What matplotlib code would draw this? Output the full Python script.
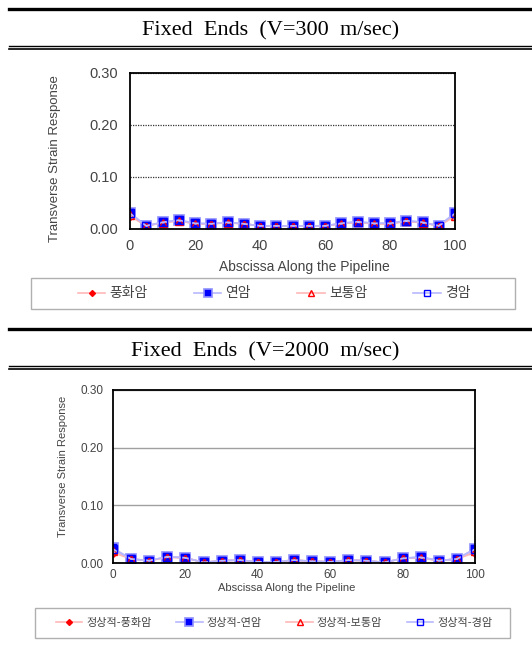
import matplotlib
matplotlib.use("Agg")
import numpy as np
import matplotlib.pyplot as plt
from matplotlib.lines import Line2D
from matplotlib.patches import Rectangle

# positions along the pipeline
x = [0, 5, 10, 15, 20, 25, 30, 35, 40, 45, 50, 55, 60, 65, 70, 75, 80, 85, 90, 95, 100]

# V = 300 m/sec
v300_weathered = [0.025, 0.006, 0.012, 0.016, 0.010, 0.010, 0.012, 0.010, 0.006, 0.006, 0.006,
                  0.006, 0.006, 0.010, 0.013, 0.010, 0.010, 0.015, 0.012, 0.006, 0.025]
v300_soft = [0.031, 0.006, 0.013, 0.017, 0.011, 0.010, 0.013, 0.010, 0.006, 0.006, 0.006,
             0.006, 0.006, 0.011, 0.014, 0.011, 0.011, 0.016, 0.013, 0.006, 0.031]
v300_normal = [0.026, 0.006, 0.012, 0.016, 0.010, 0.010, 0.012, 0.010, 0.006, 0.006, 0.006,
               0.006, 0.006, 0.010, 0.013, 0.010, 0.010, 0.015, 0.012, 0.006, 0.025]
v300_hard = [0.030, 0.006, 0.013, 0.017, 0.011, 0.010, 0.013, 0.010, 0.006, 0.006, 0.006,
             0.006, 0.006, 0.011, 0.014, 0.011, 0.011, 0.016, 0.013, 0.006, 0.030]

# V = 2000 m/sec
v2000_weathered = [0.018, 0.007, 0.004, 0.010, 0.009, 0.001, 0.004, 0.005, 0.002, 0.002, 0.005,
                   0.003, 0.002, 0.005, 0.004, 0.001, 0.008, 0.009, 0.004, 0.007, 0.018]
v2000_soft = [0.026, 0.007, 0.004, 0.011, 0.009, 0.001, 0.004, 0.005, 0.002, 0.002, 0.005,
              0.003, 0.002, 0.005, 0.004, 0.001, 0.008, 0.011, 0.004, 0.007, 0.025]
v2000_normal = [0.020, 0.007, 0.004, 0.010, 0.009, 0.001, 0.004, 0.005, 0.002, 0.002, 0.005,
                0.003, 0.002, 0.005, 0.004, 0.001, 0.008, 0.009, 0.004, 0.007, 0.020]
v2000_hard = [0.024, 0.007, 0.004, 0.011, 0.009, 0.001, 0.004, 0.005, 0.002, 0.002, 0.005,
              0.003, 0.002, 0.005, 0.004, 0.001, 0.008, 0.010, 0.004, 0.007, 0.024]

labels_300 = ["풍화암", "연암", "보통암", "경암"]
labels_2000 = ["정상적-풍화암", "정상적-연암", "정상적-보통암", "정상적-경암"]

yticks = [0.0, 0.1, 0.2, 0.3]
xticks = [0, 20, 40, 60, 80, 100]

LATIN = ["Liberation Sans", "DejaVu Sans"]
KOR = ["Noto Sans CJK KR", "DejaVu Sans"]
GREY = "#444444"

styles = [
    dict(color="#ffb8b8", marker="D", ms=4, mfc="red", mec="red", mew=1),
    dict(color="#b8b8ff", marker="s", ms=7, mfc="blue", mec="#9090ff", mew=1.2),
    dict(color="#ffb8b8", marker="^", ms=5.5, mfc="none", mec="red", mew=1),
    dict(color="#b8b8ff", marker="s", ms=5.5, mfc="none", mec="blue", mew=1),
]

W, H = 532, 654
fig = plt.figure(figsize=(W / 100, H / 100), dpi=100)


def fx(px):
    return px / W


def fy(px):
    return 1 - px / H


def hline(y, x0, lw, color="black"):
    fig.add_artist(Line2D([fx(x0), 1], [fy(y), fy(y)], lw=lw, color=color,
                          transform=fig.transFigure))


def draw_panel(box, series, labels, grid_style, fs, label_xy, leg_box, leg_opts):
    left, top, right, bottom = box
    ax = fig.add_axes([fx(left), fy(bottom), fx(right) - fx(left), fy(top) - fy(bottom)])
    for vals, lab, st in zip(series, labels, styles):
        ax.plot(x, vals, lw=1.2, label=lab, **st)
    ax.set_xlim(0, 100)
    ax.set_ylim(0, 0.3)
    ax.set_xticks(xticks)
    ax.set_yticks(yticks)
    ax.set_yticklabels(["{:.2f}".format(v) for v in yticks])
    ax.tick_params(axis="y", length=0, pad=fs["pad"], labelsize=fs["tick"], labelcolor=GREY)
    ax.tick_params(axis="x", length=0, pad=fs["xpad"], labelsize=fs["tick"], labelcolor=GREY)
    for t in ax.get_xticklabels() + ax.get_yticklabels():
        t.set_fontfamily(LATIN)
    ax.yaxis.grid(True, **grid_style)
    ax.set_axisbelow(True)
    for sp in ax.spines.values():
        sp.set_linewidth(1.3)
        sp.set_color("black")

    ax.set_xlabel("Abscissa Along the Pipeline", fontsize=fs["xlabel"], color=GREY, family=LATIN)
    ax.set_ylabel("Transverse Strain Response", fontsize=fs["ylabel"], color=GREY, family=LATIN)
    (xl_x, xl_y), (yl_x, yl_y) = label_xy
    ax.xaxis.set_label_coords((xl_x - left) / (right - left), (bottom - xl_y) / (bottom - top))
    ax.xaxis.label.set_va("center")
    ax.yaxis.set_label_coords((yl_x - left) / (right - left), (bottom - yl_y) / (bottom - top))
    ax.yaxis.label.set_va("center")

    # legend frame drawn separately, entries centred inside it
    l0, t0, r0, b0 = leg_box
    fig.add_artist(Rectangle((fx(l0), fy(b0)), fx(r0) - fx(l0), fy(t0) - fy(b0),
                             transform=fig.transFigure, fill=False,
                             edgecolor="#b0b0b0", lw=1.0))
    handles, labs = ax.get_legend_handles_labels()
    leg = fig.legend(handles, labs, loc="center",
                     bbox_to_anchor=(fx(leg_opts["cx"]), fy((t0 + b0) / 2)),
                     ncol=4, frameon=False, prop={"family": KOR, "size": leg_opts["size"]},
                     handlelength=leg_opts["hl"], handletextpad=leg_opts["htp"],
                     columnspacing=leg_opts["cs"], markerscale=0.75, borderpad=0)
    for t in leg.get_texts():
        t.set_color(GREY)
    return ax


# header rules and titles
hline(8.5, 9, 2.4)
hline(45.5, 9, 1.0)
hline(48.8, 9, 1.2)
fig.text(fx(271), fy(31), "Fixed  Ends  (V=300  m/sec)", ha="center", va="center",
         family="Liberation Serif", fontsize=16)

hline(328.5, 9, 2.4)
hline(366, 9, 1.0)
hline(369.3, 9, 1.2)
fig.text(fx(265), fy(352), "Fixed  Ends  (V=2000  m/sec)", ha="center", va="center",
         family="Liberation Serif", fontsize=16)

draw_panel((130, 73, 455, 229),
           [v300_weathered, v300_soft, v300_normal, v300_hard], labels_300,
           dict(color="#333333", lw=0.9, ls=(0, (1, 1))),
           dict(tick=10.5, xlabel=10, ylabel=9.5, pad=8.5, xpad=7),
           ((304, 267), (55, 159)),
           (31, 278, 515, 309),
           dict(cx=274, size=10, hl=2.0, htp=0.3, cs=3.3))

draw_panel((113, 390, 475, 563),
           [v2000_weathered, v2000_soft, v2000_normal, v2000_hard], labels_2000,
           dict(color="#a0a0a0", lw=1.0, ls="-"),
           dict(tick=8.5, xlabel=8, ylabel=8, pad=7, xpad=4),
           ((287, 588), (63, 466)),
           (35, 608, 510, 638),
           dict(cx=274, size=8, hl=2.4, htp=0.35, cs=2.2))

fig.savefig("out.png", dpi=100)
